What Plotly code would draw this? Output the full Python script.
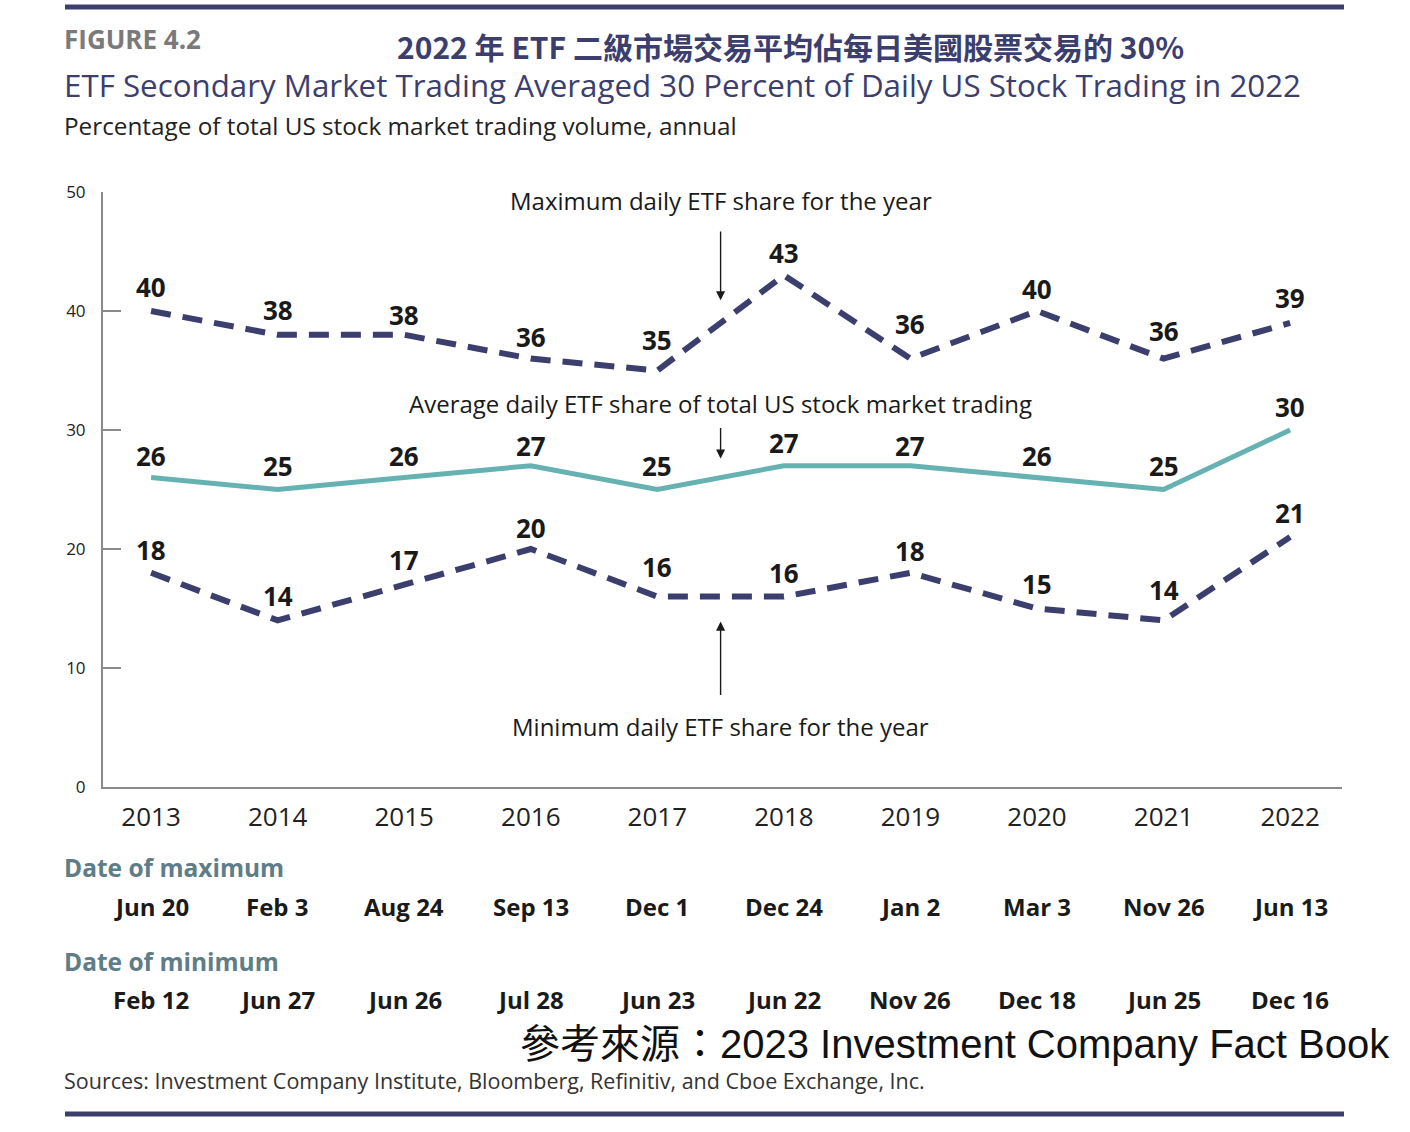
import plotly.graph_objects as go

years = ["2013", "2014", "2015", "2016", "2017", "2018", "2019", "2020", "2021", "2022"]
max_share = [40, 38, 38, 36, 35, 43, 36, 40, 36, 39]
avg_share = [26, 25, 26, 27, 25, 27, 27, 26, 25, 30]
min_share = [18, 14, 17, 20, 16, 16, 18, 15, 14, 21]
max_dates = ["Jun 20", "Feb 3", "Aug 24", "Sep 13", "Dec 1", "Dec 24", "Jan 2", "Mar 3", "Nov 26", "Jun 13"]
min_dates = ["Feb 12", "Jun 27", "Jun 26", "Jul 28", "Jun 23", "Jun 22", "Nov 26", "Dec 18", "Jun 25", "Dec 16"]
y_ticks = [0, 10, 20, 30, 40, 50]

NAVY = "#3c3e6e"
TEAL = "#66b2b2"
FONT = "Open Sans"
W, H = 1410, 1132
L, R, T, B = 103, 1342, 192, 787

xs = list(range(len(years)))

# label placement (pixels above each point), layout only
shift_max = [24, 25, 20, 22, 31, 22, 35, 22, 28, 25]
shift_avg = [22, 24, 22, 20, 24, 23, 20, 22, 24, 23]
shift_min = [23, 24, 25, 21, 30, 24, 22, 25, 30, 24]


def px(x):
    return (x - L) / (R - L)


def py(y):
    return (B - y) / (B - T)


fig = go.Figure()
fig.add_trace(go.Scatter(x=xs, y=max_share, mode="lines",
                         line=dict(color=NAVY, width=6, dash="20px,12px"), hoverinfo="skip"))
fig.add_trace(go.Scatter(x=xs, y=avg_share, mode="lines",
                         line=dict(color=TEAL, width=5), hoverinfo="skip"))
fig.add_trace(go.Scatter(x=xs, y=min_share, mode="lines",
                         line=dict(color=NAVY, width=6, dash="20px,12px"), hoverinfo="skip"))

ann = []
for series, shifts in ((max_share, shift_max), (avg_share, shift_avg), (min_share, shift_min)):
    for i, v in enumerate(series):
        ann.append(dict(x=i, y=v, xref="x", yref="y", text=f"<b>{v}</b>", showarrow=False,
                        yshift=shifts[i], yanchor="middle",
                        font=dict(family=FONT, size=26, color="#1a1a1a")))

# arrows (drawn at the midpoint between 2017 and 2018)
mid = 4.5
for head, tail in [(40.9, 46.8), (27.6, 30.3), (13.9, 7.6)]:
    ann.append(dict(x=mid, y=head, xref="x", yref="y", ax=mid, ay=tail, axref="x", ayref="y",
                    text="", showarrow=True, arrowhead=2, arrowsize=1.3, arrowwidth=1.4,
                    arrowcolor="#1a1a1a"))

for text, ypix in [("Maximum daily ETF share for the year", 201),
                   ("Average daily ETF share of total US stock market trading", 403),
                   ("Minimum daily ETF share for the year", 726)]:
    ann.append(dict(x=mid, y=py(ypix), xref="x", yref="paper", text=text, showarrow=False,
                    yanchor="middle", font=dict(family=FONT, size=24, color="#1a1a1a")))

LEFT = px(62)
# header texts
ann.append(dict(x=LEFT, y=py(39), xref="paper", yref="paper", xanchor="left", yanchor="middle",
                text="<b>FIGURE 4.2</b>",
                showarrow=False, font=dict(family=FONT, size=26, color="#7a7a7a")))
ann.append(dict(x=px(790), y=py(46), xref="paper", yref="paper", xanchor="center", yanchor="middle",
                text="<b>2022 年 ETF 二級市場交易平均佔每日美國股票交易的 30%</b>",
                showarrow=False, font=dict(family="Noto Sans CJK TC", size=30, color=NAVY)))
ann.append(dict(x=LEFT, y=py(85), xref="paper", yref="paper", xanchor="left", yanchor="middle",
                text="ETF Secondary Market Trading Averaged 30 Percent of Daily US Stock Trading in 2022",
                showarrow=False, font=dict(family=FONT, size=31.3, color=NAVY)))
ann.append(dict(x=LEFT, y=py(126), xref="paper", yref="paper", xanchor="left", yanchor="middle",
                text="Percentage of total US stock market trading volume, annual",
                showarrow=False, font=dict(family=FONT, size=24.3, color="#222222")))

# date rows
ann.append(dict(x=LEFT, y=py(867), xref="paper", yref="paper", xanchor="left", yanchor="middle",
                text="<b>Date of maximum</b>",
                showarrow=False, font=dict(family=FONT, size=24.5, color="#5e7d87")))
ann.append(dict(x=LEFT, y=py(961), xref="paper", yref="paper", xanchor="left", yanchor="middle",
                text="<b>Date of minimum</b>",
                showarrow=False, font=dict(family=FONT, size=24.5, color="#5e7d87")))
for i in xs:
    ann.append(dict(x=i, y=py(906), xref="x", yref="paper", text=f"<b>{max_dates[i]}</b>", showarrow=False,
                    yanchor="middle", font=dict(family=FONT, size=24, color="#1a1a1a")))
    ann.append(dict(x=i, y=py(999), xref="x", yref="paper", text=f"<b>{min_dates[i]}</b>", showarrow=False,
                    yanchor="middle", font=dict(family=FONT, size=24, color="#1a1a1a")))

# footer
ann.append(dict(x=px(1392), y=py(1044), xref="paper", yref="paper", xanchor="right", yanchor="middle",
                text="參考來源：2023 Investment Company Fact Book", showarrow=False,
                font=dict(family="Liberation Sans, Noto Sans CJK TC", size=40, color="#111111")))
ann.append(dict(x=LEFT, y=py(1080), xref="paper", yref="paper", xanchor="left", yanchor="middle",
                text="Sources: Investment Company Institute, Bloomberg, Refinitiv, and Cboe Exchange, Inc.",
                showarrow=False, font=dict(family=FONT, size=21.5, color="#333333")))

shapes = [
    dict(type="line", xref="paper", yref="paper", x0=px(65), x1=px(1344), y0=py(7), y1=py(7),
         line=dict(color=NAVY, width=5)),
    dict(type="line", xref="paper", yref="paper", x0=px(65), x1=px(1344), y0=py(1114), y1=py(1114),
         line=dict(color=NAVY, width=5)),
]

fig.update_layout(
    width=W, height=H,
    margin=dict(l=L, r=W - R, t=T, b=H - B, pad=0),
    paper_bgcolor="white", plot_bgcolor="white",
    showlegend=False,
    annotations=ann, shapes=shapes,
    xaxis=dict(range=[-0.38, 9.41], tickvals=xs, ticktext=years, showgrid=False, zeroline=False,
               showline=True, linecolor="#8a8a8a", linewidth=2, ticks="", ticklabelstandoff=6,
               tickfont=dict(family=FONT, size=26, color="#222222"), fixedrange=True),
    yaxis=dict(range=[0, 50], tickvals=y_ticks, showgrid=False, zeroline=False,
               showline=True, linecolor="#8a8a8a", linewidth=2, ticks="inside", ticklen=18,
               tickcolor="#8a8a8a", tickwidth=1.5, ticklabelstandoff=12,
               tickfont=dict(family=FONT, size=17, color="#222222"), fixedrange=True),
)

fig.write_html("out.html")
